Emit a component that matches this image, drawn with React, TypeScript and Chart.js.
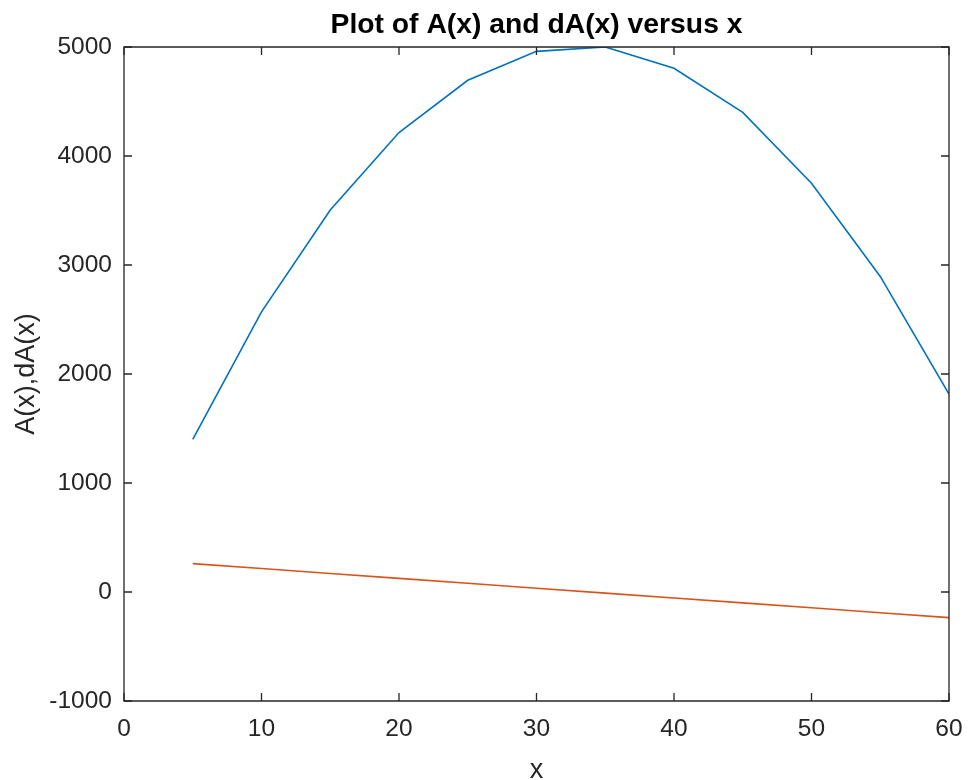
import React, { useEffect, useRef } from "react";
import { Chart, registerables } from "chart.js";

Chart.register(...registerables);

const xValues = [5, 10, 15, 20, 25, 30, 35, 40, 45, 50, 55, 60];
const aValues = [1400, 2570, 3505, 4215, 4695, 4960, 5000, 4805, 4400, 3750, 2895, 1815];
const dAValues = [260, 215, 170, 125, 80, 35, -10, -55, -100, -145, -190, -235];
const xTicks = [0, 10, 20, 30, 40, 50, 60];
const yTicks = [-1000, 0, 1000, 2000, 3000, 4000, 5000];
const titleText = "Plot of A(x) and dA(x) versus x";
const xLabel = "x";
const yLabel = "A(x),dA(x)";

const AXIS_COLOR = "#262626";
const FONT = "'Liberation Sans', Arial, Helvetica, sans-serif";

const boxPlugin = {
  id: "matlabBox",
  afterDraw(chart: any) {
    const { ctx, chartArea } = chart;
    const { left, right, top, bottom } = chartArea;
    const xs = chart.scales.x;
    const ys = chart.scales.y;
    ctx.save();
    ctx.strokeStyle = AXIS_COLOR;
    ctx.lineWidth = 1.3;
    ctx.beginPath();
    ctx.rect(left, top, right - left, bottom - top);
    ctx.stroke();
    const tl = 8;
    ctx.beginPath();
    for (const v of xTicks) {
      const px = xs.getPixelForValue(v);
      ctx.moveTo(px, bottom);
      ctx.lineTo(px, bottom - tl);
      ctx.moveTo(px, top);
      ctx.lineTo(px, top + tl);
    }
    for (const v of yTicks) {
      const py = ys.getPixelForValue(v);
      ctx.moveTo(left, py);
      ctx.lineTo(left + tl, py);
      ctx.moveTo(right, py);
      ctx.lineTo(right - tl, py);
    }
    ctx.stroke();

    // title
    ctx.fillStyle = "#000000";
    ctx.font = `bold 28.3px ${FONT}`;
    ctx.textAlign = "center";
    ctx.textBaseline = "alphabetic";
    ctx.fillText(titleText, (left + right) / 2, 33);

    // x label
    ctx.fillStyle = AXIS_COLOR;
    ctx.font = `27px ${FONT}`;
    ctx.fillText(xLabel, (left + right) / 2, 778);

    // y label
    ctx.translate(34, (top + bottom) / 2);
    ctx.rotate(-Math.PI / 2);
    ctx.fillText(yLabel, 0, 0);
    ctx.restore();
  },
};

export default function App() {
  const ref = useRef<HTMLCanvasElement | null>(null);
  useEffect(() => {
    if (!ref.current) return;
    const chart = new Chart(ref.current, {
      type: "line",
      data: {
        datasets: [
          {
            label: "A(x)",
            data: xValues.map((x, i) => ({ x, y: aValues[i] })),
            borderColor: "#0072BD",
            borderWidth: 1.6,
            pointRadius: 0,
            fill: false,
            tension: 0,
          },
          {
            label: "dA(x)",
            data: xValues.map((x, i) => ({ x, y: dAValues[i] })),
            borderColor: "#D95319",
            borderWidth: 1.6,
            pointRadius: 0,
            fill: false,
            tension: 0,
          },
        ],
      },
      options: {
        animation: false,
        responsive: false,
        layout: { padding: { top: 47, right: 19, left: 0, bottom: 0 } },
        plugins: {
          legend: { display: false },
          title: { display: false },
          tooltip: { enabled: false },
        },
        scales: {
          x: {
            type: "linear",
            min: 0,
            max: 60,
            afterBuildTicks: (s: any) => {
              s.ticks = xTicks.map((v) => ({ value: v }));
            },
            afterFit: (s: any) => {
              s.height = 79;
              s.paddingLeft = 0;
              s.paddingRight = 0;
            },
            grid: { display: false, drawTicks: false },
            border: { display: false },
            ticks: {
              color: AXIS_COLOR,
              font: { family: FONT, size: 24.5 },
              padding: 14,
              maxRotation: 0,
              autoSkip: false,
            },
          },
          y: {
            type: "linear",
            min: -1000,
            max: 5000,
            afterBuildTicks: (s: any) => {
              s.ticks = yTicks.map((v) => ({ value: v }));
            },
            afterFit: (s: any) => {
              s.width = 124;
              s.paddingTop = 0;
              s.paddingBottom = 0;
            },
            grid: { display: false, drawTicks: false },
            border: { display: false },
            ticks: {
              color: AXIS_COLOR,
              font: { family: FONT, size: 24.5 },
              padding: 12,
              autoSkip: false,
              callback: (v: any) => String(v),
            },
          },
        },
      },
      plugins: [boxPlugin],
    });
    return () => chart.destroy();
  }, []);
  return (
    <div style={{ position: "absolute", left: 0, top: 0, width: 968, height: 780, background: "#fff" }}>
      <canvas ref={ref} width={968} height={780} style={{ display: "block" }} />
    </div>
  );
}
